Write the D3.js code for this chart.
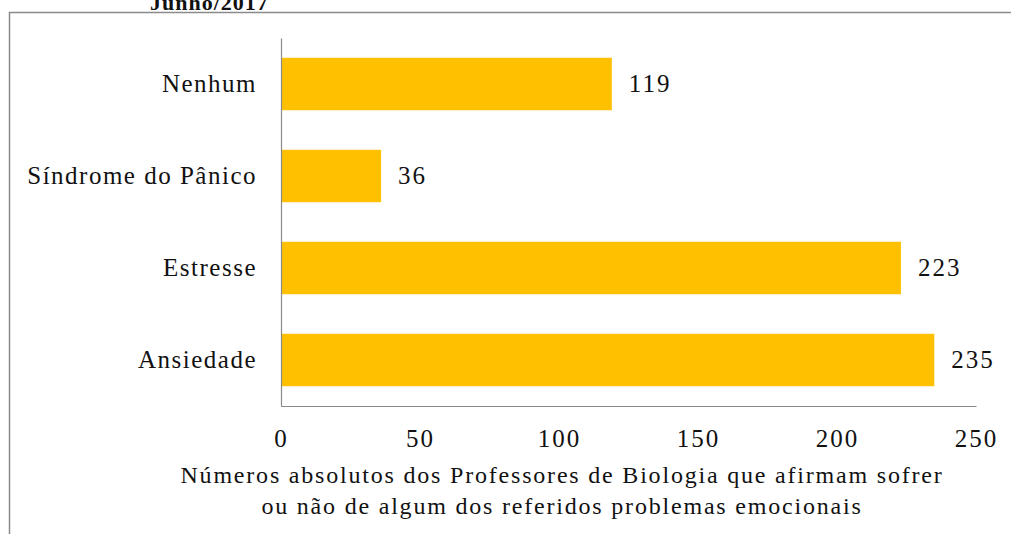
<!DOCTYPE html>
<html>
<head>
<meta charset="utf-8">
<script src="https://cdn.jsdelivr.net/npm/d3@7"></script>
<style>
body { margin: 0; background: white; }
svg text { font-family: "Liberation Serif", "Times New Roman", serif; fill: #111; }
</style>
</head>
<body>
<svg width="1011" height="534"></svg>
<script>
var width = 1011, height = 534;

var categories = ['Nenhum', 'Síndrome do Pânico', 'Estresse', 'Ansiedade'];
var values = [119, 36, 223, 235];
var xTicks = [0, 50, 100, 150, 200, 250];
var axisTitle = ['Números absolutos dos Professores de Biologia que afirmam sofrer',
                 'ou não de algum dos referidos problemas emocionais'];

var svg = d3.select('svg');

svg.append('rect')
  .attr('width', width).attr('height', height)
  .attr('fill', 'white');

// caption of the page above, cut by the crop
svg.append('text')
  .attr('x', 150).attr('y', 10)
  .style('font-size', '22px')
  .style('font-weight', 'bold')
  .style('letter-spacing', '1px')
  .text('Junho/2017');

// chart frame
svg.append('path')
  .attr('d', 'M9.5,' + height + 'V12.5H' + width)
  .attr('fill', 'none')
  .attr('stroke', '#8a8a8a')
  .attr('stroke-width', 1.5);

var x = d3.scaleLinear().domain([0, 250]).range([281, 976]);
var y = d3.scaleBand().domain(categories).range([38, 406]).paddingInner(0.43).paddingOuter(0.215);

var data = categories.map(function(c, i) { return {name: c, value: values[i]}; });

svg.selectAll('.bar')
  .data(data)
  .enter()
  .append('rect')
  .attr('class', 'bar')
  .attr('x', x(0))
  .attr('y', function(d) { return y(d.name); })
  .attr('width', function(d) { return x(d.value) - x(0); })
  .attr('height', y.bandwidth())
  .attr('fill', '#ffc000');

svg.selectAll('.val')
  .data(data)
  .enter()
  .append('text')
  .attr('class', 'val')
  .attr('x', function(d) { return x(d.value) + 17; })
  .attr('y', function(d) { return y(d.name) + y.bandwidth() / 2; })
  .attr('dy', '0.33em')
  .style('font-size', '25px')
  .style('letter-spacing', '2px')
  .text(function(d) { return d.value; });

// axes
var xAxis = svg.append('g')
  .attr('transform', 'translate(0,406)')
  .call(d3.axisBottom(x).tickValues(xTicks).tickSize(0).tickPadding(23));
xAxis.select('.domain').attr('stroke', '#8a8a8a').attr('stroke-width', 1.2);
xAxis.selectAll('text')
  .style('font-size', '25px')
  .style('letter-spacing', '2px')
  .attr('fill', '#111');

var yAxis = svg.append('g')
  .attr('transform', 'translate(281,0)')
  .call(d3.axisLeft(y).tickSize(0).tickPadding(24));
yAxis.select('.domain').attr('stroke', '#8a8a8a').attr('stroke-width', 1.2);
yAxis.selectAll('text')
  .style('font-size', '25px')
  .style('letter-spacing', '1.5px')
  .attr('fill', '#111');

svg.append('text')
  .attr('x', 562).attr('y', 483)
  .attr('text-anchor', 'middle')
  .style('font-size', '24px')
  .style('letter-spacing', '1.8px')
  .selectAll('tspan')
  .data(axisTitle)
  .enter()
  .append('tspan')
  .attr('x', 562)
  .attr('dy', function(d, i) { return i ? 31 : 0; })
  .text(function(d) { return d; });
</script>
</body>
</html>
